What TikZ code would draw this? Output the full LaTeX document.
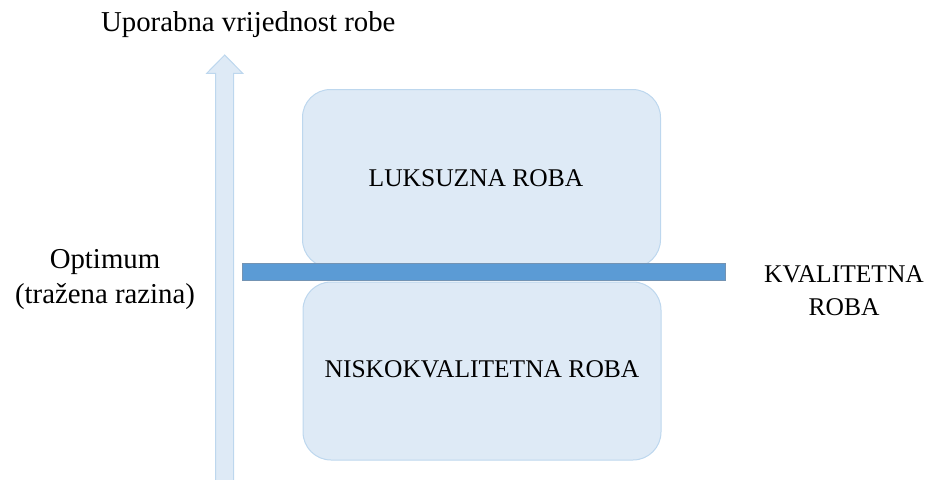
\documentclass[tikz,border=0pt]{standalone}
\usepackage{fontspec}
\setmainfont{Liberation Serif}
\definecolor{boxfill}{HTML}{DEEAF6}
\definecolor{boxline}{HTML}{BDD7EE}
\definecolor{barfill}{HTML}{5B9BD5}
\definecolor{barline}{HTML}{7393B3}
\begin{document}
\begin{tikzpicture}[x=1pt,y=-1pt,
  box/.style={draw=boxline, fill=boxfill, rounded corners=28pt, minimum width=358pt,
    minimum height=178pt, inner sep=0pt, line width=1pt},
  boxtext/.style={font=\fontsize{25.5}{30}\selectfont, inner sep=0pt},
  bigtext/.style={font=\fontsize{28.8}{35}\selectfont, align=center, inner sep=0pt},
  captext/.style={font=\fontsize{25.5}{33.4}\selectfont, align=center, inner sep=0pt},
  axisarrow/.style={draw=boxline, fill=boxfill, line width=1pt},
  barstyle/.style={draw=barline, fill=barfill, line width=1pt, minimum width=482.6pt,
    minimum height=17pt, inner sep=0pt}]
\useasboundingbox (0,0) rectangle (928,479);
\clip (0,0) rectangle (928,479);
% vertical axis arrow
\coordinate (axisbottom) at (224.7,482);
\coordinate (axistip) at (224.7,55);
\draw[axisarrow] (215.7,482) -- (215.7,73.3) -- (206.7,73.3) -- (axistip)
  -- (242.7,73.3) -- (233.7,73.3) -- (233.7,482) -- cycle;
% boxes
\node[box] (lux) at (481.5,178.5) {};
\node[box] (low) at (482,371) {};
\node[boxtext] (luxtext) at ([xshift=-5.5pt]lux.center) {LUKSUZNA ROBA};
\node[boxtext] (lowtext) at ([yshift=1.5pt]low.center) {NISKOKVALITETNA ROBA};
% bar
\node[barstyle] (bar) at (484,271.8) {};
% labels
\node[bigtext, anchor=base] (title) at (248.3,31.7) {Uporabna vrijednost robe};
\node[bigtext, anchor=north] (opt) at (105,249.5) {Optimum\\(tražena razina)};
\node[captext, anchor=north] (kval) at (844,265) {KVALITETNA\\ROBA};
\end{tikzpicture}
\end{document}
